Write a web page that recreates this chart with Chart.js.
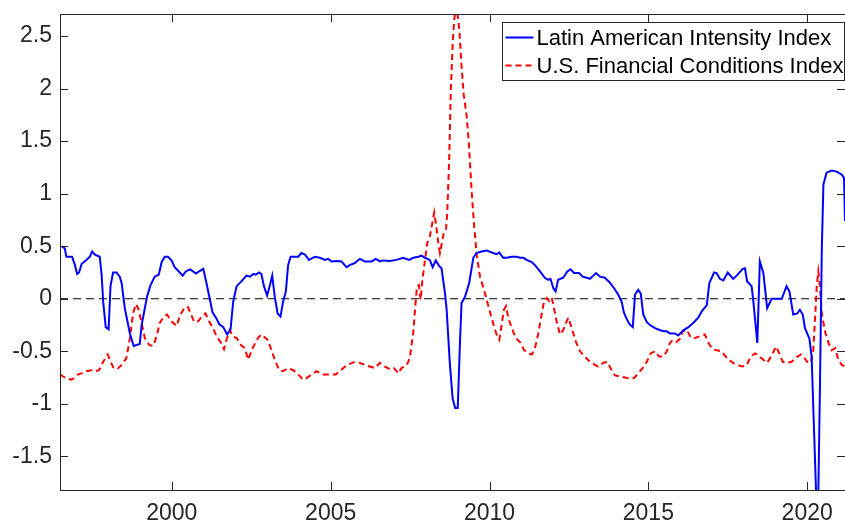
<!DOCTYPE html>
<html>
<head>
<meta charset="utf-8">
<script src="https://cdn.jsdelivr.net/npm/chart.js@4.4.1/dist/chart.umd.min.js"></script>
<style>
  html, body { margin: 0; padding: 0; background: #fff; }
  #wrap { width: 845px; height: 525px; }
</style>
</head>
<body>
<div id="wrap"><canvas id="chart" width="845" height="525"></canvas></div>
<script>
// Latin American Intensity Index (blue, solid)
const latamYears = [1996.53,1996.63,1996.68,1996.79,1996.86,1996.95,1997.02,1997.08,1997.16,1997.31,1997.42,1997.49,1997.58,1997.73,1997.79,1997.84,1997.92,1998.01,1998.07,1998.15,1998.26,1998.36,1998.42,1998.52,1998.68,1998.80,1998.99,1999.05,1999.15,1999.22,1999.33,1999.46,1999.59,1999.68,1999.78,1999.88,1999.99,2000.09,2000.22,2000.34,2000.44,2000.57,2000.67,2000.76,2000.86,2000.99,2001.09,2001.20,2001.28,2001.39,2001.49,2001.62,2001.74,2001.85,2001.93,2002.04,2002.19,2002.35,2002.46,2002.56,2002.64,2002.75,2002.82,2002.90,2003.00,2003.09,2003.16,2003.24,2003.33,2003.42,2003.50,2003.59,2003.66,2003.74,2003.87,2003.98,2004.08,2004.19,2004.32,2004.50,2004.66,2004.82,2004.92,2005.03,2005.19,2005.34,2005.50,2005.60,2005.76,2005.92,2006.08,2006.29,2006.42,2006.55,2006.65,2006.86,2007.07,2007.28,2007.47,2007.60,2007.76,2007.86,2007.97,2008.12,2008.21,2008.31,2008.42,2008.49,2008.60,2008.65,2008.75,2008.84,2008.92,2009.00,2009.07,2009.12,2009.23,2009.36,2009.49,2009.59,2009.75,2009.91,2010.07,2010.22,2010.31,2010.43,2010.54,2010.70,2010.85,2010.96,2011.06,2011.17,2011.33,2011.43,2011.59,2011.74,2011.85,2011.92,2012.01,2012.08,2012.16,2012.32,2012.45,2012.55,2012.66,2012.82,2012.93,2013.06,2013.16,2013.27,2013.35,2013.48,2013.63,2013.77,2013.92,2014.05,2014.16,2014.23,2014.30,2014.40,2014.51,2014.58,2014.68,2014.76,2014.84,2014.95,2015.05,2015.21,2015.37,2015.49,2015.58,2015.68,2015.84,2015.94,2016.10,2016.26,2016.41,2016.57,2016.68,2016.84,2016.92,2017.07,2017.15,2017.25,2017.36,2017.50,2017.67,2017.78,2017.97,2018.04,2018.11,2018.25,2018.30,2018.43,2018.51,2018.62,2018.74,2018.88,2019.04,2019.20,2019.35,2019.44,2019.56,2019.69,2019.77,2019.86,2019.93,2020.07,2020.14,2020.28,2020.35,2020.40,2020.46,2020.51,2020.61,2020.77,2020.93,2021.09,2021.16,2021.19];
const latamValues = [0.50,0.48,0.40,0.40,0.40,0.32,0.235,0.25,0.33,0.37,0.40,0.45,0.42,0.40,0.23,-0.03,-0.27,-0.29,0.12,0.25,0.25,0.21,0.15,-0.09,-0.33,-0.45,-0.43,-0.25,-0.09,0.02,0.13,0.21,0.23,0.35,0.40,0.40,0.365,0.30,0.26,0.22,0.26,0.28,0.26,0.24,0.26,0.285,0.15,-0.01,-0.13,-0.18,-0.24,-0.27,-0.34,-0.29,-0.03,0.12,0.165,0.22,0.21,0.235,0.23,0.25,0.235,0.12,0.03,0.13,0.22,0.02,-0.14,-0.17,-0.03,0.07,0.32,0.40,0.40,0.40,0.435,0.42,0.37,0.40,0.39,0.37,0.38,0.355,0.36,0.355,0.30,0.32,0.34,0.38,0.355,0.355,0.38,0.355,0.365,0.36,0.37,0.39,0.37,0.39,0.40,0.41,0.39,0.37,0.30,0.365,0.31,0.29,0.05,-0.10,-0.61,-0.95,-1.04,-1.04,-0.42,-0.04,0.02,0.15,0.39,0.435,0.45,0.46,0.44,0.425,0.44,0.39,0.39,0.40,0.40,0.39,0.39,0.37,0.35,0.32,0.26,0.20,0.18,0.19,0.10,0.07,0.18,0.20,0.26,0.28,0.245,0.245,0.21,0.20,0.19,0.22,0.245,0.21,0.20,0.16,0.10,0.04,-0.03,-0.13,-0.18,-0.24,-0.27,0.04,0.085,0.05,-0.15,-0.22,-0.25,-0.28,-0.30,-0.31,-0.31,-0.33,-0.33,-0.35,-0.30,-0.27,-0.23,-0.18,-0.12,-0.06,0.15,0.25,0.245,0.19,0.175,0.25,0.19,0.22,0.285,0.29,0.165,0.12,-0.01,-0.42,0.355,0.245,-0.09,0.00,0.00,0.00,0.12,0.07,-0.15,-0.14,-0.105,-0.15,-0.28,-0.38,-0.55,-1.85,-1.85,-0.87,0.47,1.086,1.20,1.22,1.21,1.18,1.15,0.74];

// U.S. Financial Conditions Index (red, dashed)
const usYears = [1996.48,1996.58,1996.70,1996.84,1996.95,1997.05,1997.16,1997.31,1997.47,1997.58,1997.71,1997.84,1997.98,1998.05,1998.15,1998.28,1998.42,1998.57,1998.68,1998.78,1998.87,1998.94,1999.05,1999.15,1999.29,1999.41,1999.52,1999.62,1999.75,1999.85,1999.99,2000.15,2000.27,2000.41,2000.51,2000.60,2000.70,2000.83,2000.94,2001.06,2001.17,2001.30,2001.41,2001.53,2001.64,2001.72,2001.83,2001.93,2002.04,2002.19,2002.30,2002.40,2002.56,2002.72,2002.82,2003.05,2003.09,2003.24,2003.38,2003.50,2003.66,2003.82,2003.98,2004.13,2004.24,2004.40,2004.56,2004.76,2004.98,2005.16,2005.29,2005.45,2005.60,2005.76,2005.92,2006.08,2006.23,2006.39,2006.55,2006.71,2006.86,2006.99,2007.13,2007.23,2007.39,2007.49,2007.60,2007.68,2007.72,2007.78,2007.83,2007.89,2007.97,2008.04,2008.12,2008.20,2008.26,2008.31,2008.39,2008.44,2008.50,2008.56,2008.63,2008.67,2008.73,2008.78,2008.84,2008.89,2008.94,2008.98,2009.05,2009.12,2009.19,2009.28,2009.35,2009.44,2009.51,2009.59,2009.70,2009.86,2009.99,2010.14,2010.22,2010.31,2010.38,2010.45,2010.52,2010.59,2010.70,2010.83,2010.98,2011.08,2011.22,2011.33,2011.43,2011.53,2011.64,2011.72,2011.80,2011.88,2011.96,2012.03,2012.11,2012.22,2012.32,2012.41,2012.48,2012.59,2012.72,2012.85,2013.00,2013.16,2013.32,2013.42,2013.58,2013.71,2013.81,2013.95,2014.11,2014.26,2014.42,2014.55,2014.68,2014.82,2014.95,2015.07,2015.21,2015.34,2015.47,2015.58,2015.68,2015.78,2015.89,2016.00,2016.08,2016.21,2016.33,2016.41,2016.54,2016.68,2016.78,2016.89,2017.02,2017.15,2017.31,2017.47,2017.62,2017.78,2017.97,2018.10,2018.22,2018.36,2018.46,2018.60,2018.74,2018.88,2019.02,2019.12,2019.23,2019.35,2019.51,2019.67,2019.80,2019.88,2020.00,2020.11,2020.19,2020.25,2020.30,2020.35,2020.40,2020.46,2020.56,2020.67,2020.77,2020.88,2020.98,2021.09,2021.19];
const usValues = [-0.72,-0.74,-0.76,-0.77,-0.75,-0.72,-0.71,-0.69,-0.68,-0.69,-0.68,-0.60,-0.53,-0.58,-0.65,-0.67,-0.63,-0.565,-0.375,-0.14,-0.05,-0.09,-0.23,-0.375,-0.44,-0.45,-0.36,-0.23,-0.17,-0.15,-0.215,-0.26,-0.15,-0.08,-0.08,-0.145,-0.22,-0.215,-0.17,-0.14,-0.215,-0.28,-0.36,-0.41,-0.48,-0.39,-0.30,-0.36,-0.375,-0.445,-0.47,-0.58,-0.46,-0.37,-0.34,-0.40,-0.45,-0.58,-0.68,-0.69,-0.66,-0.68,-0.72,-0.77,-0.755,-0.72,-0.69,-0.72,-0.72,-0.72,-0.69,-0.645,-0.62,-0.60,-0.61,-0.63,-0.645,-0.66,-0.61,-0.645,-0.67,-0.66,-0.71,-0.66,-0.635,-0.565,-0.32,-0.01,0.12,0.13,-0.01,0.18,0.37,0.53,0.59,0.72,0.82,0.72,0.53,0.435,0.53,0.625,0.66,0.82,1.32,1.96,2.43,2.66,2.78,2.74,2.56,2.21,1.94,1.74,1.48,1.01,0.72,0.435,0.21,0.05,-0.10,-0.26,-0.34,-0.39,-0.25,-0.105,-0.07,-0.18,-0.28,-0.375,-0.42,-0.485,-0.52,-0.53,-0.47,-0.34,-0.15,-0.02,0.007,-0.02,0.01,-0.09,-0.215,-0.34,-0.30,-0.23,-0.18,-0.28,-0.41,-0.50,-0.55,-0.60,-0.63,-0.645,-0.61,-0.60,-0.66,-0.73,-0.74,-0.75,-0.76,-0.755,-0.71,-0.66,-0.60,-0.52,-0.50,-0.55,-0.55,-0.50,-0.42,-0.39,-0.41,-0.38,-0.31,-0.295,-0.365,-0.38,-0.365,-0.35,-0.34,-0.42,-0.48,-0.49,-0.50,-0.565,-0.60,-0.63,-0.645,-0.63,-0.55,-0.52,-0.54,-0.575,-0.61,-0.54,-0.455,-0.52,-0.60,-0.61,-0.60,-0.555,-0.53,-0.55,-0.60,-0.61,-0.49,-0.17,0.12,0.26,0.12,-0.14,-0.31,-0.42,-0.49,-0.47,-0.58,-0.63,-0.645];

const xTicks = [2000, 2005, 2010, 2015, 2020];
const yTicks = [-1.5, -1, -0.5, 0, 0.5, 1, 1.5, 2, 2.5];
const xRange = [1996.48, 2021.19];
const yRange = [-1.82, 2.71];

const axisColor = '#262626';

function toPoints(xs, ys) {
    return xs.map((x, i) => ({ x: x, y: ys[i] }));
}

function noAutoPadding(s) {
    s.paddingTop = 0;
    s.paddingBottom = 0;
    s.paddingLeft = 0;
    s.paddingRight = 0;
}

// MATLAB-style box with inward ticks, plus the boxed legend in the corner
const matlabAxes = {
    id: 'matlabAxes',
    afterDatasetsDraw(chart) {
        const { ctx, chartArea: a, scales } = chart;
        ctx.save();
        ctx.strokeStyle = axisColor;
        ctx.lineWidth = 1;
        ctx.beginPath();
        xTicks.forEach(v => {
            const px = Math.round(scales.x.getPixelForValue(v)) + 0.5;
            ctx.moveTo(px, a.bottom); ctx.lineTo(px, a.bottom - 8);
            ctx.moveTo(px, a.top); ctx.lineTo(px, a.top + 8);
        });
        yTicks.forEach(v => {
            const py = Math.round(scales.y.getPixelForValue(v)) + 0.5;
            ctx.moveTo(a.left, py); ctx.lineTo(a.left + 8, py);
            ctx.moveTo(a.right, py); ctx.lineTo(a.right - 8, py);
        });
        ctx.stroke();
        ctx.strokeRect(Math.round(a.left) + 0.5, Math.round(a.top) + 0.5,
            Math.round(a.right - a.left), Math.round(a.bottom - a.top));

        // legend
        const items = chart.data.datasets.filter(d => d.label);
        const bx = 502.5, by = 22.5, bw = 342, bh = 58;
        ctx.fillStyle = '#fff';
        ctx.fillRect(bx, by, bw, bh);
        ctx.strokeStyle = axisColor;
        ctx.strokeRect(bx, by, bw, bh);
        ctx.font = '22px "Liberation Sans", Arial, sans-serif';
        ctx.textBaseline = 'middle';
        items.forEach((d, i) => {
            const ly = by + 15 + i * 28;
            ctx.strokeStyle = d.borderColor;
            ctx.lineWidth = d.borderWidth;
            ctx.setLineDash(d.borderDash || []);
            ctx.beginPath();
            ctx.moveTo(bx + 3, ly); ctx.lineTo(bx + 31, ly);
            ctx.stroke();
            ctx.setLineDash([]);
            ctx.fillStyle = '#000';
            ctx.fillText(d.label, bx + 34, ly + 1);
        });
        ctx.restore();
    }
};

new Chart(document.getElementById('chart').getContext('2d'), {
    type: 'line',
    data: {
        datasets: [
            {
                label: 'Latin American Intensity Index',
                data: toPoints(latamYears, latamValues),
                borderColor: '#0000ff',
                borderWidth: 2,
                order: 1
            },
            {
                label: 'U.S. Financial Conditions Index',
                data: toPoints(usYears, usValues),
                borderColor: '#ff0000',
                borderWidth: 2,
                borderDash: [6, 4],
                order: 2
            },
            {
                label: '',
                data: toPoints(xRange, [0, 0]),
                borderColor: '#000000',
                borderWidth: 1,
                borderDash: [8, 5],
                order: 3
            }
        ]
    },
    options: {
        responsive: false,
        devicePixelRatio: 1,
        animation: false,
        layout: { padding: { top: 14, right: 0, left: 0, bottom: 0 } },
        elements: {
            point: { radius: 0 },
            line: { tension: 0, fill: false, borderCapStyle: 'butt' }
        },
        plugins: {
            legend: { display: false },
            tooltip: { enabled: false }
        },
        scales: {
            x: {
                type: 'linear',
                min: xRange[0],
                max: xRange[1],
                afterBuildTicks: s => { s.ticks = xTicks.map(v => ({ value: v })); },
                afterFit: s => { s.height = 35; noAutoPadding(s); },
                grid: { display: false, drawTicks: false },
                border: { display: false },
                ticks: {
                    color: axisColor,
                    font: { family: '"Liberation Sans", Arial, sans-serif', size: 23 },
                    padding: 10,
                    maxRotation: 0,
                    callback: v => String(v)
                }
            },
            y: {
                type: 'linear',
                min: yRange[0],
                max: yRange[1],
                afterBuildTicks: s => { s.ticks = yTicks.map(v => ({ value: v })); },
                afterFit: s => { s.width = 60; noAutoPadding(s); },
                grid: { display: false, drawTicks: false },
                border: { display: false },
                ticks: {
                    color: axisColor,
                    font: { family: '"Liberation Sans", Arial, sans-serif', size: 23 },
                    padding: 8,
                    callback: v => String(v)
                }
            }
        }
    },
    plugins: [matlabAxes]
});
</script>
</body>
</html>
